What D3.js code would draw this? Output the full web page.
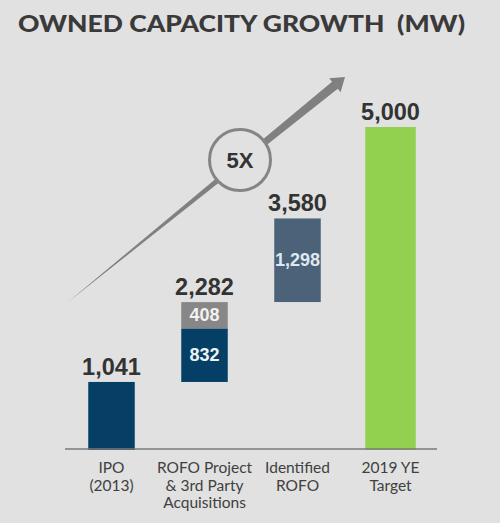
<!DOCTYPE html>
<html>
<head>
<meta charset="utf-8">
<script src="https://cdn.jsdelivr.net/npm/d3@7"></script>
<style>
  html, body { margin: 0; padding: 0; background: #e1e1e1; }
  svg { display: block; }
</style>
</head>
<body>
<script>
// ---- data ----
const categories = ["IPO (2013)", "ROFO Project & 3rd Party Acquisitions", "Identified ROFO", "2019 YE Target"];
const categoryLines = [["IPO", "(2013)"], ["ROFO Project", "& 3rd Party", "Acquisitions"], ["Identified", "ROFO"], ["2019 YE", "Target"]];
const totals = [1041, 2282, 3580, 5000];
const totalLabels = ["1,041", "2,282", "3,580", "5,000"];
const segCategory = [0, 1, 1, 2, 3];
const segBase = [0, 1041, 1873, 2282, 0];
const segValue = [1041, 832, 408, 1298, 5000];
const segLabels = ["", "832", "408", "1,298", ""];
const segColors = ["#053f66", "#053f66", "#878787", "#4b6278", "#92d050"];
const segLabelColors = ["#fff", "#eef2f6", "#f2f2f2", "#dfe8f1", "#fff"];
const title = "OWNED CAPACITY GROWTH  (MW)";
const multiplier = "5X";

const W = 500, H = 523;
const svg = d3.select("body").append("svg").attr("width", W).attr("height", H);
svg.append("rect").attr("width", W).attr("height", H).attr("fill", "#e1e1e1");

const x = d3.scaleBand().domain(categories).range([65, 437]).paddingInner(0.5).paddingOuter(0.25);
const y = d3.scaleLinear().domain([0, 5000]).range([449, 127]);

// title
svg.append("text")
  .attr("x", 18).attr("y", 32)
  .attr("font-family", "Lato, 'Open Sans', sans-serif")
  .attr("font-weight", 900)
  .attr("font-size", 22.5)
  .attr("fill", "#3a3a3a")
  .attr("textLength", 447)
  .attr("lengthAdjust", "spacingAndGlyphs")
  .style("white-space", "pre")
  .text(title);

// bars
svg.append("g").selectAll("rect")
  .data(segValue.map((v, i) => i))
  .join("rect")
  .attr("x", i => x(categories[segCategory[i]]) - (segCategory[i] === 3 ? 2 : 0))
  .attr("width", i => x.bandwidth() + (segCategory[i] === 3 ? 4 : 0))
  .attr("y", i => y(segBase[i] + segValue[i]))
  .attr("height", i => y(segBase[i]) - y(segBase[i] + segValue[i]) + (segBase[i] === 0 ? 1 : 0))
  .attr("fill", i => segColors[i]);

// segment labels
svg.append("g").selectAll("text")
  .data(segValue.map((v, i) => i).filter(i => segLabels[i]))
  .join("text")
  .attr("x", i => x(categories[segCategory[i]]) + x.bandwidth() / 2)
  .attr("y", i => (y(segBase[i]) + y(segBase[i] + segValue[i])) / 2 + 6)
  .attr("text-anchor", "middle")
  .attr("font-family", "'Liberation Sans', Arial, sans-serif")
  .attr("font-weight", "bold")
  .attr("font-size", 18)
  .attr("fill", i => segLabelColors[i])
  .text(i => segLabels[i]);

// totals
svg.append("g").selectAll("text")
  .data(totals.map((v, i) => i))
  .join("text")
  .attr("x", i => x(categories[i]) + x.bandwidth() / 2)
  .attr("y", i => y(totals[i]) - 7)
  .attr("text-anchor", "middle")
  .attr("font-family", "'Liberation Sans', Arial, sans-serif")
  .attr("font-weight", "bold")
  .attr("font-size", 23.5)
  .attr("fill", "#333333")
  .text(i => totalLabels[i]);

// baseline axis
svg.append("line")
  .attr("x1", x.range()[0]).attr("x2", x.range()[1])
  .attr("y1", y(0)).attr("y2", y(0))
  .attr("stroke", "#7a7a7a").attr("stroke-width", 1.3);

// category labels
const cl = svg.append("g").selectAll("text")
  .data(categories.map((c, i) => i))
  .join("text")
  .attr("x", i => x(categories[i]) + x.bandwidth() / 2)
  .attr("y", 473)
  .attr("text-anchor", "middle")
  .attr("font-family", "Lato, 'Open Sans', sans-serif")
  .attr("font-size", 15.5)
  .attr("fill", "#404040");
cl.selectAll("tspan")
  .data(i => categoryLines[i].map(t => ({ t, xx: x(categories[i]) + x.bandwidth() / 2 })))
  .join("tspan")
  .attr("x", d => d.xx)
  .attr("dy", (d, j) => j === 0 ? 0 : 17.5)
  .text(d => d.t);

// growth arrow annotation
const tail = [x.range()[0] + 3, y(totals[1])];
const tip = [345, y(totals[3]) - 50];
const dx = tip[0] - tail[0], dy = tip[1] - tail[1];
const len = Math.hypot(dx, dy);
const u = [dx / len, dy / len], n = [-u[1], u[0]];
const headL = 13, headW = 9, shaftW = 4.5;
const B = [tip[0] - headL * u[0], tip[1] - headL * u[1]];
const pts = [
  tail,
  [B[0] + shaftW * n[0], B[1] + shaftW * n[1]],
  [B[0] + headW * n[0], B[1] + headW * n[1]],
  tip,
  [B[0] - headW * n[0], B[1] - headW * n[1]],
  [B[0] - shaftW * n[0], B[1] - shaftW * n[1]]
];
svg.append("path")
  .attr("d", d3.line()(pts) + "Z")
  .attr("fill", "#808080");

const cx = 240, cy = 160;
svg.append("circle")
  .attr("cx", cx).attr("cy", cy).attr("r", 30.5)
  .attr("fill", "#e1e1e1")
  .attr("stroke", "#858585").attr("stroke-width", 3);
svg.append("text")
  .attr("x", cx).attr("y", cy + 8)
  .attr("text-anchor", "middle")
  .attr("font-family", "'Liberation Sans', Arial, sans-serif")
  .attr("font-weight", "bold")
  .attr("font-size", 22)
  .attr("fill", "#333333")
  .text(multiplier);
</script>
</body>
</html>
